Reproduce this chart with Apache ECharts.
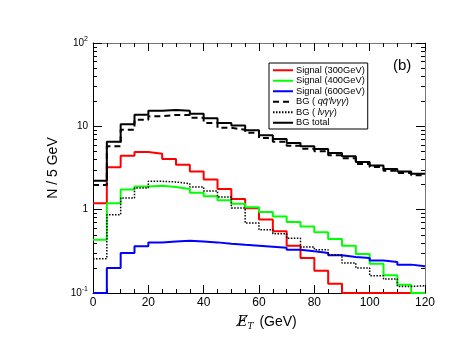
<!DOCTYPE html>
<html>
<head>
<meta charset="utf-8">
<script src="https://cdn.jsdelivr.net/npm/echarts@6/dist/echarts.min.js"></script>
<style>
  html, body { margin: 0; padding: 0; background: #fff; }
  #chart { width: 463px; height: 360px; }
</style>
</head>
<body>
<div id="chart"></div>
<script>
// bin edges, 5 GeV wide
const binEdges = [0, 5, 10, 15, 20, 25, 30, 35, 40, 45, 50, 55, 60, 65, 70, 75, 80, 85, 90, 95, 100, 105, 110, 115, 120];

const sig300 = [1.19, 3.22, 4.45, 4.92, 4.7, 4.06, 3.47, 2.88, 2.3, 1.77, 1.34, 1.04, 0.76, 0.55, 0.37, 0.263, 0.185, 0.129, 0.1, 0.1, 0.1, 0.1, 0.1, 0.1];
const sig400 = [0.436, 1.19, 1.74, 1.9, 1.94, 1.87, 1.77, 1.6, 1.45, 1.3, 1.18, 1.07, 0.94, 0.83, 0.71, 0.63, 0.535, 0.445, 0.37, 0.294, 0.225, 0.163, 0.126, 0.1];
const sig600 = [0.1, 0.2, 0.302, 0.363, 0.405, 0.416, 0.425, 0.416, 0.405, 0.391, 0.38, 0.37, 0.36, 0.35, 0.331, 0.316, 0.302, 0.283, 0.27, 0.263, 0.246, 0.236, 0.219, 0.209];
const bgQQ = [1.98, 5.75, 9.1, 12.0, 13.2, 13.7, 13.7, 12.7, 11.0, 9.6, 9.1, 8.4, 7.22, 6.53, 5.85, 5.39, 5.02, 4.5, 4.14, 3.53, 3.24, 2.93, 2.76, 2.58];
const bgLv = [0.258, 0.87, 1.38, 1.82, 2.19, 2.15, 2.05, 1.87, 1.68, 1.42, 1.05, 0.69, 0.575, 0.515, 0.453, 0.356, 0.331, 0.288, 0.229, 0.2, 0.161, 0.147, 0.12, 0.122];
const bgTotal = [2.23, 6.55, 10.6, 13.8, 15.4, 15.7, 15.4, 14.2, 12.5, 11.0, 10.2, 8.95, 7.8, 7.05, 6.3, 5.75, 5.35, 4.79, 4.37, 3.73, 3.4, 3.08, 2.88, 2.7];

const minorY = [0.2, 0.3, 0.4, 0.5, 0.6, 0.7, 0.8, 0.9, 2, 3, 4, 5, 6, 7, 8, 9, 20, 30, 40, 50, 60, 70, 80, 90];

const font = 'Liberation Sans';

// histogram as a step line through the bin edges
let hist = (vals) => binEdges.map((x, i) => [x, vals[Math.min(i, vals.length - 1)]]);

let histSeries = (name, vals, color, width, dash) => ({
    name: name,
    type: 'line',
    step: 'end',
    symbol: 'none',
    animation: false,
    lineStyle: { color: color, width: width, type: dash || 'solid' },
    itemStyle: { color: color },
    data: hist(vals)
});

let yLabel = (v) => {
    let p = Math.round(Math.log10(v));
    if (p === 0) return '1';
    if (p === 1) return '10';
    return '10{s|' + p + '}';
};

let yAxisBase = (pos, opts) => Object.assign({
    type: 'log',
    logBase: 10,
    min: 0.1,
    max: 100,
    position: pos,
    gridIndex: 0,
    splitLine: { show: false },
    axisLabel: { show: false },
    axisLine: { show: false },
    axisTick: { show: false }
}, opts);

let xAxisBase = (pos, opts) => Object.assign({
    type: 'value',
    min: 0,
    max: 120,
    interval: 20,
    position: pos,
    splitLine: { show: false },
    axisTick: { show: true, inside: true, length: 8, lineStyle: { color: '#000' } },
    minorTick: { show: true, splitNumber: 4, length: 4, lineStyle: { color: '#000' } }
}, opts);

const option = {
    backgroundColor: '#fff',
    animation: false,
    textStyle: { fontFamily: font },
    title: {
        text: '(b)',
        left: 393,
        top: 58,
        padding: 0,
        textStyle: { fontFamily: font, fontSize: 15, fontWeight: 'normal', color: '#000' }
    },
    grid: { left: 93, right: 38, top: 43, bottom: 67 },
    legend: {
        orient: 'vertical',
        left: 269,
        top: 63,
        padding: [2, 3, 1, 3],
        itemGap: 0,
        itemWidth: 20,
        itemHeight: 8,
        borderColor: '#000',
        borderWidth: 1,
        borderRadius: 0,
        backgroundColor: '#fff',
        itemStyle: { opacity: 0 },
        data: ['Signal (300GeV)', 'Signal (400GeV)', 'Signal (600GeV)', "BG ( qq\u0304\u2032l\u03bd\u03b3\u03b3)", 'BG ( l\u03bd\u03b3\u03b3)', 'BG total'],
        formatter: (name) => name.replace(/\( (.+)\)/, '( {i|$1})'),
        textStyle: {
            fontFamily: font,
            fontSize: 9.3,
            lineHeight: 10.5,
            color: '#000',
            padding: [0, 0, 0, -2],
            rich: {
                i: { fontFamily: font, fontSize: 9.3, fontStyle: 'italic', color: '#000' }
            }
        }
    },
    xAxis: [
        xAxisBase('bottom', {
            name: '{e|E\u0338}{t|T} (GeV)',
            nameLocation: 'middle',
            nameGap: 20,
            nameTextStyle: {
                fontFamily: font, fontSize: 14, color: '#000', padding: [0, 0, 0, 16],
                rich: {
                    e: { fontFamily: 'DejaVu Serif', fontSize: 14, fontStyle: 'italic', color: '#000' },
                    t: { fontFamily: 'DejaVu Serif', fontSize: 9, fontStyle: 'italic', color: '#000', padding: [9, 2, 0, 0] }
                }
            },
            axisLine: { show: true, lineStyle: { color: '#000', width: 1 } },
            axisLabel: { fontFamily: font, fontSize: 12, color: '#000', margin: 4 }
        }),
        xAxisBase('top', {
            axisLine: { show: true, lineStyle: { color: '#777', width: 1 } },
            axisLabel: { show: false }
        })
    ],
    yAxis: [
        yAxisBase('left', {
            name: 'N / 5 GeV',
            nameLocation: 'middle',
            nameGap: 31,
            nameTextStyle: { fontFamily: font, fontSize: 14, color: '#000' },
            axisLine: { show: true, lineStyle: { color: '#000', width: 1 } },
            axisTick: { show: true, inside: true, length: 9, lineStyle: { color: '#000' } },
            axisLabel: {
                show: true,
                fontFamily: font,
                fontSize: 10,
                color: '#000',
                margin: 5,
                formatter: yLabel,
                rich: { s: { fontFamily: font, fontSize: 7, color: '#000', padding: [0, 0, 7, 0] } }
            }
        }),
        yAxisBase('left', {
            axisTick: { show: true, inside: true, length: 4, customValues: minorY, lineStyle: { color: '#000' } }
        }),
        yAxisBase('right', {
            axisLine: { show: true, lineStyle: { color: '#777', width: 1 } },
            axisTick: { show: true, inside: true, length: 9, lineStyle: { color: '#000' } }
        }),
        yAxisBase('right', {
            axisTick: { show: true, inside: true, length: 4, customValues: minorY, lineStyle: { color: '#000' } }
        })
    ],
    series: [
        histSeries('Signal (300GeV)', sig300, '#ff0000', 2),
        histSeries('Signal (400GeV)', sig400, '#00ff00', 2),
        histSeries('Signal (600GeV)', sig600, '#0000ff', 2),
        histSeries("BG ( qq\u0304\u2032l\u03bd\u03b3\u03b3)", bgQQ, '#000', 2, [6, 4]),
        histSeries('BG ( l\u03bd\u03b3\u03b3)', bgLv, '#000', 1.5, [1.5, 1.5]),
        histSeries('BG total', bgTotal, '#000', 2)
    ]
};

let chart = echarts.init(document.getElementById('chart'), null, { renderer: 'canvas' });
chart.setOption(option);
</script>
</body>
</html>
